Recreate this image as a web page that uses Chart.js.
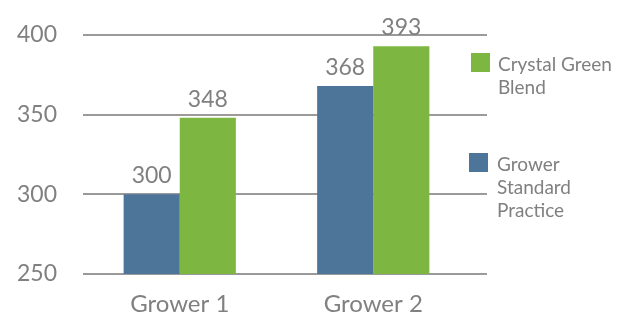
<!DOCTYPE html>
<html lang="en">
<head>
    <meta charset="UTF-8">
    <title>Grower comparison</title>
    <script src="https://cdn.jsdelivr.net/npm/chart.js"></script>
    <style>
        body {
            margin: 0;
            font-family: Lato, "Open Sans", sans-serif;
            background: #fff;
        }
        #wrap {
            position: relative;
            width: 626px;
            height: 318px;
        }
        .legend-item {
            position: absolute;
            font-size: 19px;
            line-height: 23px;
            color: #808080;
        }
        .legend-box {
            position: absolute;
            width: 19px;
            height: 19px;
        }
    </style>
</head>
<body>

<div id="wrap">
    <canvas id="myChart"></canvas>
    <div class="legend-box" style="left:471px; top:53px; background:#7db742;"></div>
    <div class="legend-item" style="left:498px; top:52px;">Crystal Green<br>Blend</div>
    <div class="legend-box" style="left:469px; top:153px; background:#4d7599;"></div>
    <div class="legend-item" style="left:497px; top:152px;">Grower<br>Standard<br>Practice</div>
</div>

<script>
    const categorias = ['Grower 1', 'Grower 2'];
    const standard = [300, 368];
    const crystal = [348, 393];
    const yTicks = [250, 300, 350, 400];

    const cinza = '#808080';

    // linhas de grade que passam um pouco da área do gráfico
    const gradePlugin = {
        id: 'grade',
        beforeDatasetsDraw(chart) {
            const ctx = chart.ctx;
            const y = chart.scales.y;
            ctx.save();
            ctx.strokeStyle = '#9a9a9a';
            ctx.lineWidth = 2;
            yTicks.forEach(v => {
                const py = Math.round(y.getPixelForValue(v));
                ctx.beginPath();
                ctx.moveTo(chart.chartArea.left, py);
                ctx.lineTo(chart.chartArea.right + 17, py);
                ctx.stroke();
            });
            ctx.restore();
        }
    };

    const rotulosPlugin = {
        id: 'rotulos',
        afterDatasetsDraw(chart) {
            const ctx = chart.ctx;
            ctx.save();
            ctx.fillStyle = cinza;
            ctx.font = '23px Lato';
            ctx.textAlign = 'center';
            ctx.textBaseline = 'alphabetic';
            chart.data.datasets.forEach((ds, i) => {
                chart.getDatasetMeta(i).data.forEach((bar, j) => {
                    ctx.fillText(ds.data[j], bar.x, bar.y - 11);
                });
            });
            ctx.restore();
        }
    };

    const ctx = document.getElementById('myChart').getContext('2d');
    const chart = new Chart(ctx, {
        type: 'bar',
        data: {
            labels: categorias,
            datasets: [
                {
                    label: 'Grower Standard Practice',
                    data: standard,
                    backgroundColor: '#4d7599'
                },
                {
                    label: 'Crystal Green Blend',
                    data: crystal,
                    backgroundColor: '#7db742'
                }
            ]
        },
        options: {
            responsive: true,
            maintainAspectRatio: false,
            animation: false,
            layout: {
                padding: { top: 35, right: 156, left: 0, bottom: 0 }
            },
            datasets: {
                bar: {
                    barPercentage: 1,
                    categoryPercentage: 0.58
                }
            },
            plugins: {
                legend: { display: false },
                tooltip: { enabled: false }
            },
            scales: {
                x: {
                    grid: { display: false },
                    border: { display: false },
                    ticks: {
                        color: cinza,
                        font: { family: 'Lato', size: 24 },
                        padding: 8
                    },
                    afterFit(s) { s.height = 44; }
                },
                y: {
                    min: 250,
                    max: 400,
                    grid: { display: false, drawTicks: false },
                    border: { display: false },
                    ticks: {
                        stepSize: 50,
                        color: cinza,
                        font: { family: 'Lato', size: 23 },
                        padding: 26
                    },
                    afterFit(s) {
                        s.width = 83;
                        s.paddingTop = 0;
                        s.paddingBottom = 0;
                    }
                }
            }
        },
        plugins: [gradePlugin, rotulosPlugin]
    });
</script>

</body>
</html>
